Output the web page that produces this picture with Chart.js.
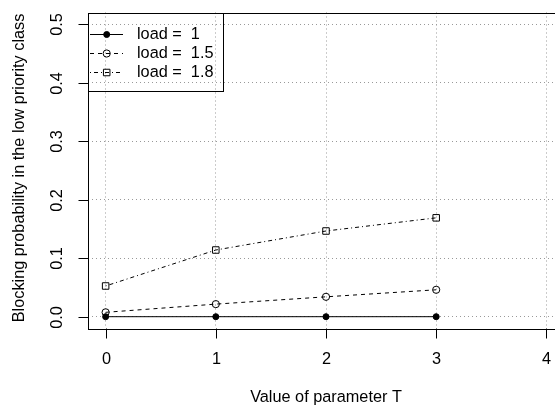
<!DOCTYPE html>
<html>
<head>
<meta charset="utf-8">
<script src="https://cdn.jsdelivr.net/npm/chart.js@4"></script>
<style>
html, body { margin: 0; padding: 0; overflow: hidden; background: #fff; }
canvas { display: block; }
</style>
</head>
<body>
<canvas id="chart" width="580" height="407"></canvas>
<script>
// values
var paramT = [0, 1, 2, 3];
var load1 = [0.000, 0.000, 0.000, 0.000];
var load15 = [0.0075, 0.0215, 0.034, 0.046];
var load18 = [0.0525, 0.114, 0.1465, 0.169];
var loadNames = ['1', '1.5', '1.8'];
var xTicks = [0, 1, 2, 3, 4];
var yTicks = [0, 0.1, 0.2, 0.3, 0.4, 0.5];
var yTickLabels = ['0.0', '0.1', '0.2', '0.3', '0.4', '0.5'];
var xTitle = 'Value of parameter T';
var yTitle = 'Blocking probability in the low priority class';

var FONT = '16.3px "Liberation Sans", Arial, Helvetica, sans-serif';

function pts(vals) {
    return paramT.map(function (t, i) { return {x: t, y: vals[i]}; });
}

// line style + marker for each series (R: lty 1/2/4, pch 19/1/0)
var styles = [
    {dash: [], pointStyle: 'circle', radius: 3, fill: '#000'},
    {dash: [4, 4], pointStyle: 'circle', radius: 3.6, fill: 'rgba(0,0,0,0)'},
    {dash: [1, 3, 4, 3], pointStyle: 'rect', radius: 4.6, fill: 'rgba(0,0,0,0)'}
];
var series = [load1, load15, load18];

function drawMarker(ctx, st, x, y) {
    ctx.save();
    ctx.setLineDash([]);
    ctx.lineWidth = 1;
    ctx.strokeStyle = '#000';
    ctx.fillStyle = st.fill;
    ctx.beginPath();
    if (st.pointStyle === 'rect') {
        var s = Math.SQRT1_2 * st.radius;
        ctx.rect(x - s, y - s, 2 * s, 2 * s);
    } else {
        ctx.arc(x, y, st.radius, 0, Math.PI * 2);
    }
    ctx.fill();
    ctx.stroke();
    ctx.restore();
}

var rAxes = {
    id: 'rAxes',
    afterDraw: function (chart) {
        var ctx = chart.ctx;
        var a = chart.chartArea;
        var xs = chart.scales.x, ys = chart.scales.y;
        ctx.save();
        ctx.strokeStyle = '#000';
        ctx.lineWidth = 1;
        ctx.setLineDash([]);
        // box
        ctx.strokeRect(Math.round(a.left) + 0.5, Math.round(a.top) + 0.5,
            Math.round(a.right - a.left), Math.round(a.bottom - a.top));
        // x axis ticks + labels
        ctx.fillStyle = '#000';
        ctx.font = FONT;
        ctx.textAlign = 'center';
        ctx.textBaseline = 'middle';
        var bot = Math.round(a.bottom) + 0.5;
        xTicks.forEach(function (v) {
            var px = Math.round(xs.getPixelForValue(v)) + 0.5;
            ctx.beginPath();
            ctx.moveTo(px, bot);
            ctx.lineTo(px, bot + 10);
            ctx.stroke();
            ctx.fillText(String(v), px, a.bottom + 31);
        });
        // y axis ticks + labels (rotated, as R las=0)
        var lft = Math.round(a.left) + 0.5;
        yTicks.forEach(function (v, i) {
            var py = Math.round(ys.getPixelForValue(v)) + 0.5;
            ctx.beginPath();
            ctx.moveTo(lft, py);
            ctx.lineTo(lft - 10, py);
            ctx.stroke();
            ctx.save();
            ctx.translate(a.left - 30, py);
            ctx.rotate(-Math.PI / 2);
            ctx.fillText(yTickLabels[i], 0, 0);
            ctx.restore();
        });
        // titles
        ctx.fillText(xTitle, (a.left + a.right) / 2, a.bottom + 69);
        ctx.save();
        ctx.translate(20, (a.top + a.bottom) / 2 - 2.5);
        ctx.rotate(-Math.PI / 2);
        ctx.fillText(yTitle, 0, 0);
        ctx.restore();

        // legend, top-left inside the box
        var lx = a.left, ly = a.top;
        ctx.strokeRect(Math.round(lx) + 0.5, Math.round(ly) + 0.5, 135, 78);
        ctx.textAlign = 'left';
        styles.forEach(function (st, i) {
            var ry = Math.round(ly + 21.5 + i * 19) + 0.5;
            ctx.save();
            ctx.setLineDash(st.dash);
            ctx.beginPath();
            ctx.moveTo(lx + 2, ry);
            ctx.lineTo(lx + 35, ry);
            ctx.stroke();
            ctx.restore();
            drawMarker(ctx, st, lx + 18.7, ry);
            ctx.fillText('load =  ' + loadNames[i], lx + 49, ry);
        });
        ctx.restore();
    }
};

new Chart(document.getElementById('chart'), {
    type: 'scatter',
    data: {
        datasets: series.map(function (vals, i) {
            var st = styles[i];
            return {
                label: 'load = ' + loadNames[i],
                data: pts(vals),
                showLine: true,
                borderColor: '#000',
                borderWidth: 1,
                borderDash: st.dash,
                pointStyle: st.pointStyle,
                pointRadius: st.radius,
                pointBackgroundColor: st.fill,
                pointBorderColor: '#000',
                pointBorderWidth: 1,
                tension: 0
            };
        })
    },
    options: {
        responsive: false,
        animation: false,
        events: [],
        layout: {padding: {left: 0, top: 12.5, right: 16, bottom: 0}},
        plugins: {legend: {display: false}, tooltip: {enabled: false}},
        scales: {
            x: {
                type: 'linear',
                min: -0.16,
                max: 4.16,
                afterBuildTicks: function (s) { s.ticks = xTicks.map(function (v) { return {value: v}; }); },
                afterFit: function (s) { s.height = 78.6; },
                ticks: {display: false},
                grid: {color: '#999999', drawTicks: false, lineWidth: 1},
                border: {display: false, dash: [1, 3]}
            },
            y: {
                type: 'linear',
                min: -0.02,
                max: 0.52,
                afterBuildTicks: function (s) { s.ticks = yTicks.map(function (v) { return {value: v}; }); },
                afterFit: function (s) { s.width = 88; },
                ticks: {display: false},
                grid: {color: '#999999', drawTicks: false, lineWidth: 1},
                border: {display: false, dash: [1, 3]}
            }
        }
    },
    plugins: [rAxes]
});
</script>
</body>
</html>
